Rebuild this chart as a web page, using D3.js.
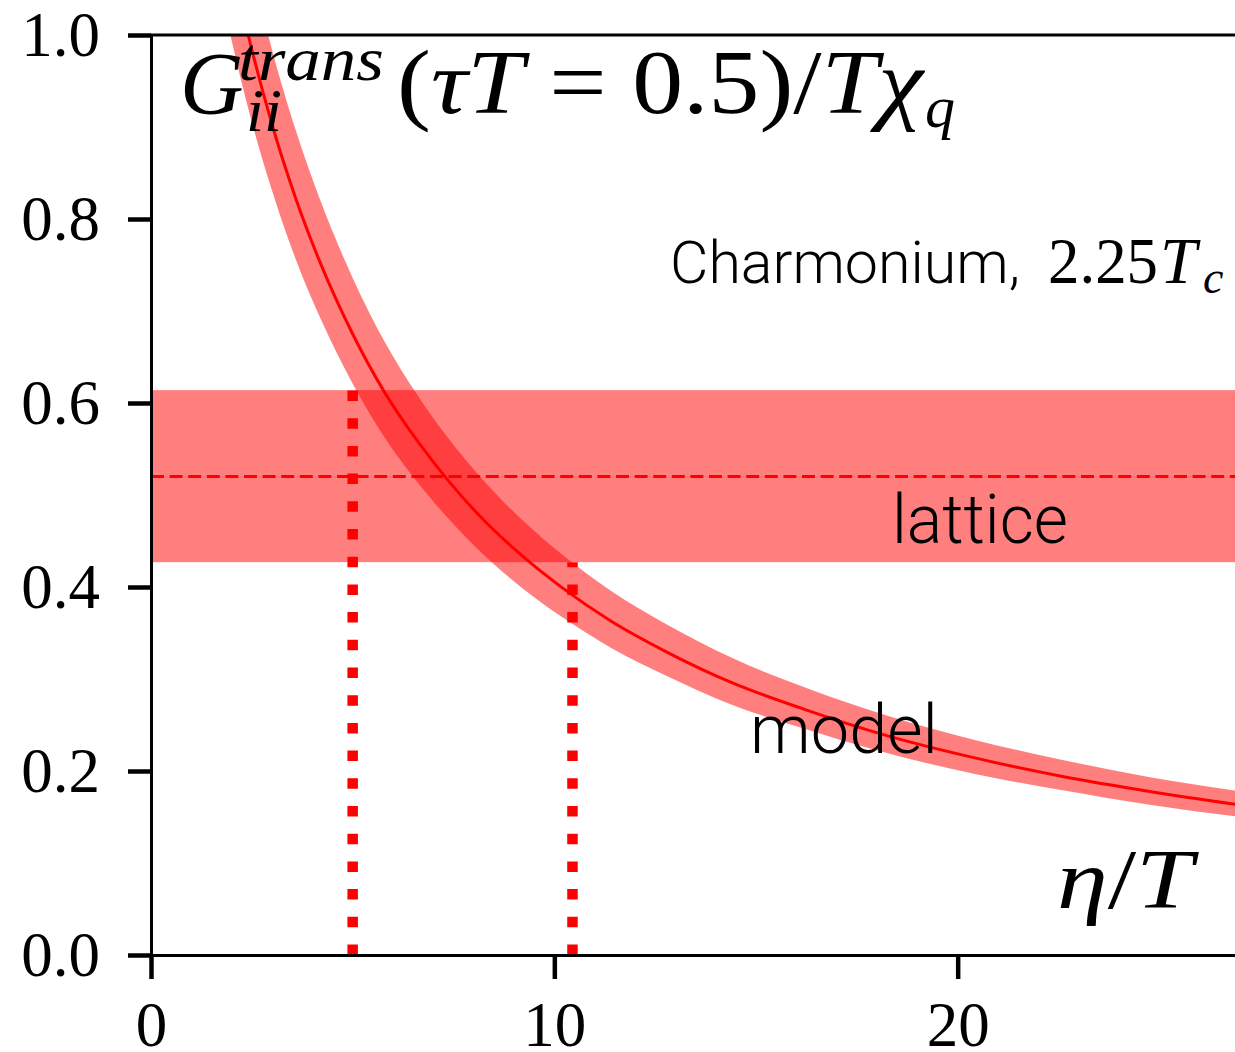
<!DOCTYPE html>
<html>
<head>
<meta charset="utf-8">
<script src="https://cdn.jsdelivr.net/npm/d3@7"></script>
<style>
  body { margin: 0; background: #fff; }
  .tick text { font-family: "Liberation Serif", "DejaVu Serif", serif; }
  .math { font-family: "Liberation Serif", "DejaVu Serif", serif; }
  .sans { font-family: Roboto, Lato, "Liberation Sans", sans-serif; font-weight: 300; }
</style>
</head>
<body>
<div id="chart"></div>
<script>
// model curve (eta/T) with its band
var eta   = [1.6, 2.0, 2.4, 3.0, 3.6, 4.2, 5.0, 5.8, 6.6, 7.4, 8.2, 9.2, 10.2, 11.4, 12.8, 14.4, 16.2, 18.2, 20.4, 22.6, 24.8, 27.0];
var gMid  = [1.171, 1.080, 1.002, 0.903, 0.821, 0.752, 0.675, 0.611, 0.559, 0.514, 0.475, 0.434, 0.399, 0.363, 0.329, 0.296, 0.267, 0.239, 0.2145, 0.194, 0.1775, 0.163];
var gLow  = [1.077, 0.994, 0.922, 0.831, 0.755, 0.692, 0.621, 0.562, 0.514, 0.473, 0.437, 0.399, 0.367, 0.334, 0.303, 0.272, 0.246, 0.220, 0.197, 0.179, 0.163, 0.150];
var gHigh = [1.276, 1.177, 1.092, 0.984, 0.895, 0.820, 0.736, 0.666, 0.609, 0.560, 0.518, 0.473, 0.435, 0.396, 0.359, 0.323, 0.291, 0.261, 0.234, 0.212, 0.193, 0.178];

// lattice value and error band
var latticeMid = 0.52;
var latticeLow = 0.427;
var latticeHigh = 0.614;

// eta/T where the dotted markers sit
var etaCuts = [5.0, 10.45];

var xTicks = [0, 10, 20];
var yTicks = [0, 0.2, 0.4, 0.6, 0.8, 1.0];

var svgWidth = 1235;
var svgHeight = 1052;

var margin = { top: 35, right: 0, bottom: 97, left: 151 };
var width = 1089;
var height = svgHeight - margin.top - margin.bottom;

var svg = d3.select("#chart")
  .append("svg")
  .attr("width", svgWidth)
  .attr("height", svgHeight);

var chartGroup = svg.append("g")
  .attr("transform", `translate(${margin.left}, ${margin.top})`);

var xScale = d3.scaleLinear().domain([0, 27]).range([0, width]);
var yScale = d3.scaleLinear().domain([0, 1]).range([height, 0]);

svg.append("defs").append("clipPath")
  .attr("id", "plotClip")
  .append("rect")
  .attr("x", 0).attr("y", 0)
  .attr("width", width).attr("height", height);

var plot = chartGroup.append("g").attr("clip-path", "url(#plotClip)");

// lattice band + dashed central value
plot.append("rect")
  .attr("x", xScale(0))
  .attr("width", xScale(27) - xScale(0))
  .attr("y", yScale(latticeHigh))
  .attr("height", yScale(latticeLow) - yScale(latticeHigh))
  .attr("fill", "red")
  .attr("fill-opacity", 0.5);

plot.append("line")
  .attr("x1", xScale(0)).attr("x2", xScale(27))
  .attr("y1", yScale(latticeMid)).attr("y2", yScale(latticeMid))
  .attr("stroke", "red")
  .attr("stroke-width", 3)
  .attr("stroke-dasharray", "13,5.6");

// model band
var modelData = eta.map((e, i) => ({ e: e, mid: gMid[i], lo: gLow[i], hi: gHigh[i] }));

var area = d3.area()
  .x(d => xScale(d.e))
  .y0(d => yScale(d.lo))
  .y1(d => yScale(d.hi))
  .curve(d3.curveMonotoneX);

plot.append("path")
  .datum(modelData)
  .attr("d", area)
  .attr("fill", "red")
  .attr("fill-opacity", 0.5);

var line = d3.line()
  .x(d => xScale(d.e))
  .y(d => yScale(d.mid))
  .curve(d3.curveMonotoneX);

plot.append("path")
  .datum(modelData)
  .attr("d", line)
  .attr("fill", "none")
  .attr("stroke", "red")
  .attr("stroke-width", 3);

// dotted markers, from zero up to the lattice band edges
var cutTops = [latticeHigh, latticeLow];
etaCuts.forEach(function(e, i) {
  plot.append("path")
    .attr("d", d3.line()([[xScale(e), yScale(0)], [xScale(e), yScale(cutTops[i])]]))
    .attr("stroke", "red")
    .attr("stroke-width", 10.5)
    .attr("stroke-dasharray", "10.5,17.2")
    .attr("fill", "none");
});

// axes
var xAxis = d3.axisBottom(xScale).tickValues(xTicks).tickSize(24).tickSizeOuter(0).tickPadding(22).tickFormat(d3.format("d"));
var yAxis = d3.axisLeft(yScale).tickValues(yTicks).tickSize(23).tickSizeOuter(0).tickPadding(28).tickFormat(d3.format(".1f"));

var gx = chartGroup.append("g")
  .attr("transform", `translate(0, ${height})`)
  .call(xAxis);

var gy = chartGroup.append("g")
  .call(yAxis);

[gx, gy].forEach(function(g) {
  g.select(".domain").attr("stroke", "#000").attr("stroke-width", 3);
  g.selectAll(".tick line").attr("stroke", "#000").attr("stroke-width", 4.5);
  g.selectAll(".tick text").attr("font-size", 63).attr("fill", "#000");
});

chartGroup.append("line")
  .attr("x1", 0).attr("x2", width)
  .attr("y1", 0).attr("y2", 0)
  .attr("stroke", "#000")
  .attr("stroke-width", 3);

// labels
var title = svg.append("g").attr("class", "math").attr("fill", "#000");
title.append("text").attr("x", 180).attr("y", 113).attr("font-size", 88).attr("font-style", "italic").text("G");
title.append("text").attr("x", 238).attr("y", 80).attr("font-size", 62).attr("font-style", "italic")
  .attr("textLength", 146).attr("lengthAdjust", "spacingAndGlyphs").text("trans");
title.append("text").attr("x", 246).attr("y", 131).attr("font-size", 62).attr("font-style", "italic")
  .attr("textLength", 36).attr("lengthAdjust", "spacingAndGlyphs").text("ii");
var tMain = title.append("text").attr("x", 397).attr("y", 113).attr("font-size", 90)
  .attr("textLength", 526).attr("lengthAdjust", "spacingAndGlyphs");
tMain.append("tspan").text("(");
tMain.append("tspan").attr("font-style", "italic").text("τT");
tMain.append("tspan").text(" = 0.5)/");
tMain.append("tspan").attr("font-style", "italic").text("Tχ");
title.append("text").attr("x", 925).attr("y", 127).attr("font-size", 60).attr("font-style", "italic").text("q");

svg.append("text").attr("class", "sans")
  .attr("x", 670).attr("y", 283).attr("font-size", 60)
  .attr("textLength", 350).attr("lengthAdjust", "spacingAndGlyphs")
  .text("Charmonium,");
svg.append("text").attr("class", "math")
  .attr("x", 1048).attr("y", 283).attr("font-size", 66)
  .attr("textLength", 110).attr("lengthAdjust", "spacingAndGlyphs")
  .text("2.25");
svg.append("text").attr("class", "math")
  .attr("x", 1160).attr("y", 283).attr("font-size", 66).attr("font-style", "italic")
  .text("T");
svg.append("text").attr("class", "math")
  .attr("x", 1203).attr("y", 293).attr("font-size", 46).attr("font-style", "italic")
  .text("c");

svg.append("text").attr("class", "sans")
  .attr("x", 892).attr("y", 543).attr("font-size", 68)
  .attr("textLength", 176).attr("lengthAdjust", "spacingAndGlyphs")
  .text("lattice");

svg.append("text").attr("class", "sans")
  .attr("x", 750).attr("y", 753).attr("font-size", 68)
  .attr("textLength", 188).attr("lengthAdjust", "spacingAndGlyphs")
  .text("model");

var etaLabel = svg.append("text").attr("class", "math")
  .attr("x", 1057).attr("y", 908).attr("font-size", 84)
  .attr("textLength", 136).attr("lengthAdjust", "spacingAndGlyphs");
etaLabel.append("tspan").attr("font-style", "italic").text("η");
etaLabel.append("tspan").text("/");
etaLabel.append("tspan").attr("font-style", "italic").text("T");
</script>
</body>
</html>
